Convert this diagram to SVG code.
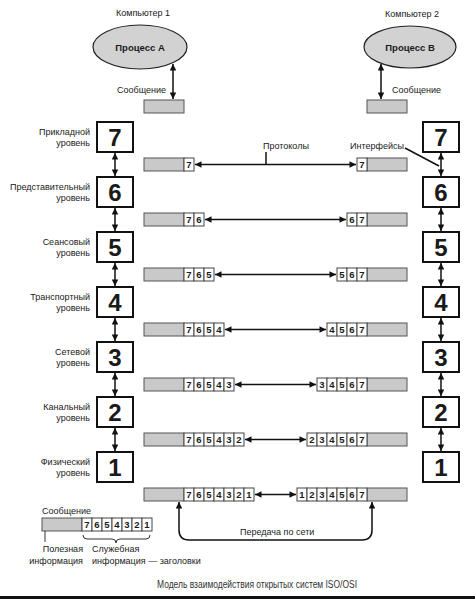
<svg xmlns="http://www.w3.org/2000/svg" width="475" height="599" viewBox="0 0 475 599">
<defs>
<marker id="ah" viewBox="0 0 10 10" refX="10" refY="5" markerWidth="8" markerHeight="6.5" markerUnits="userSpaceOnUse" orient="auto-start-reverse">
<path d="M0,0 L10,5 L0,10 z" fill="#111"/>
</marker>
<style>
text{font-family:"Liberation Sans",Arial,sans-serif;fill:#1a1a1a}
.lbl{font-size:9px}
.lr{text-anchor:end}
.mid{text-anchor:middle}
.box{fill:#fff;stroke:#111;stroke-width:2}
.num{font-size:24px;font-weight:bold;text-anchor:middle}
.gray{fill:#c9c9c9;stroke:#555;stroke-width:1}
.cell{fill:#fff;stroke:#444;stroke-width:1}
.cd{font-size:9.5px;font-weight:bold;text-anchor:middle}
.ln{stroke:#111;stroke-width:1.5;fill:none}
.dbl{stroke:#111;stroke-width:1.5;fill:none;marker-start:url(#ah);marker-end:url(#ah)}
</style>
</defs>
<rect width="475" height="599" fill="#fff"/>

<g id="computer1">
<text class="lbl mid" x="143" y="16">Компьютер 1</text>
<ellipse cx="140" cy="47" rx="47" ry="22" fill="#d2d2d2" stroke="#222" stroke-width="1.2"/>
<text class="mid" x="140" y="51" font-size="9.5" font-weight="bold">Процесс А</text>
<text class="lbl lr" x="166" y="93">Сообщение</text>
<rect class="gray" x="144" y="100" width="40" height="13"/>
</g>
<g id="computer2">
<text class="lbl mid" x="412" y="17">Компьютер 2</text>
<ellipse cx="410" cy="47" rx="46" ry="21" fill="#d2d2d2" stroke="#222" stroke-width="1.2"/>
<text class="mid" x="410" y="51" font-size="9.5" font-weight="bold">Процесс В</text>
<text class="lbl" x="392" y="93">Сообщение</text>
<rect class="gray" x="367" y="100" width="40" height="13"/>
</g>

<g id="left-layers">
<g id="L7"><text class="lbl lr" x="90" y="135">Прикладной</text><text class="lbl lr" x="90" y="146">уровень</text><rect class="box" x="97" y="122" width="36" height="30"/><text class="num" x="115" y="146">7</text></g>
<g id="L6"><text class="lbl lr" x="90" y="190">Представительный</text><text class="lbl lr" x="90" y="201">уровень</text><rect class="box" x="97" y="177" width="36" height="30"/><text class="num" x="115" y="201">6</text></g>
<g id="L5"><text class="lbl lr" x="90" y="245">Сеансовый</text><text class="lbl lr" x="90" y="256">уровень</text><rect class="box" x="97" y="232" width="36" height="30"/><text class="num" x="115" y="256">5</text></g>
<g id="L4"><text class="lbl lr" x="90" y="300">Транспортный</text><text class="lbl lr" x="90" y="311">уровень</text><rect class="box" x="97" y="287" width="36" height="30"/><text class="num" x="115" y="311">4</text></g>
<g id="L3"><text class="lbl lr" x="90" y="355">Сетевой</text><text class="lbl lr" x="90" y="366">уровень</text><rect class="box" x="97" y="342" width="36" height="30"/><text class="num" x="115" y="366">3</text></g>
<g id="L2"><text class="lbl lr" x="90" y="410">Канальный</text><text class="lbl lr" x="90" y="421">уровень</text><rect class="box" x="97" y="397" width="36" height="30"/><text class="num" x="115" y="421">2</text></g>
<g id="L1"><text class="lbl lr" x="90" y="465">Физический</text><text class="lbl lr" x="90" y="476">уровень</text><rect class="box" x="97" y="452" width="36" height="30"/><text class="num" x="115" y="476">1</text></g>
</g>

<g id="right-layers">
<g id="R7"><rect class="box" x="423" y="122" width="36" height="30"/><text class="num" x="441" y="146">7</text></g>
<g id="R6"><rect class="box" x="423" y="177" width="36" height="30"/><text class="num" x="441" y="201">6</text></g>
<g id="R5"><rect class="box" x="423" y="232" width="36" height="30"/><text class="num" x="441" y="256">5</text></g>
<g id="R4"><rect class="box" x="423" y="287" width="36" height="30"/><text class="num" x="441" y="311">4</text></g>
<g id="R3"><rect class="box" x="423" y="342" width="36" height="30"/><text class="num" x="441" y="366">3</text></g>
<g id="R2"><rect class="box" x="423" y="397" width="36" height="30"/><text class="num" x="441" y="421">2</text></g>
<g id="R1"><rect class="box" x="423" y="452" width="36" height="30"/><text class="num" x="441" y="476">1</text></g>
</g>

<g id="left-packets">
<g id="p7l"><rect class="gray" x="144" y="158" width="40" height="13"/><rect class="cell" x="184" y="158" width="10" height="13"/><text class="cd" x="189" y="168">7</text></g>
<g id="p6l"><rect class="gray" x="144" y="213" width="40" height="13"/>
<rect class="cell" x="184" y="213" width="10" height="13"/><text class="cd" x="189" y="223">7</text>
<rect class="cell" x="194" y="213" width="10" height="13"/><text class="cd" x="199" y="223">6</text></g>
<g id="p5l"><rect class="gray" x="144" y="268" width="40" height="13"/>
<rect class="cell" x="184" y="268" width="10" height="13"/><text class="cd" x="189" y="278">7</text>
<rect class="cell" x="194" y="268" width="10" height="13"/><text class="cd" x="199" y="278">6</text>
<rect class="cell" x="204" y="268" width="10" height="13"/><text class="cd" x="209" y="278">5</text></g>
<g id="p4l"><rect class="gray" x="144" y="323" width="40" height="13"/>
<rect class="cell" x="184" y="323" width="10" height="13"/><text class="cd" x="189" y="333">7</text>
<rect class="cell" x="194" y="323" width="10" height="13"/><text class="cd" x="199" y="333">6</text>
<rect class="cell" x="204" y="323" width="10" height="13"/><text class="cd" x="209" y="333">5</text>
<rect class="cell" x="214" y="323" width="10" height="13"/><text class="cd" x="219" y="333">4</text></g>
<g id="p3l"><rect class="gray" x="144" y="378" width="40" height="13"/>
<rect class="cell" x="184" y="378" width="10" height="13"/><text class="cd" x="189" y="388">7</text>
<rect class="cell" x="194" y="378" width="10" height="13"/><text class="cd" x="199" y="388">6</text>
<rect class="cell" x="204" y="378" width="10" height="13"/><text class="cd" x="209" y="388">5</text>
<rect class="cell" x="214" y="378" width="10" height="13"/><text class="cd" x="219" y="388">4</text>
<rect class="cell" x="224" y="378" width="10" height="13"/><text class="cd" x="229" y="388">3</text></g>
<g id="p2l"><rect class="gray" x="144" y="433" width="40" height="13"/>
<rect class="cell" x="184" y="433" width="10" height="13"/><text class="cd" x="189" y="443">7</text>
<rect class="cell" x="194" y="433" width="10" height="13"/><text class="cd" x="199" y="443">6</text>
<rect class="cell" x="204" y="433" width="10" height="13"/><text class="cd" x="209" y="443">5</text>
<rect class="cell" x="214" y="433" width="10" height="13"/><text class="cd" x="219" y="443">4</text>
<rect class="cell" x="224" y="433" width="10" height="13"/><text class="cd" x="229" y="443">3</text>
<rect class="cell" x="234" y="433" width="10" height="13"/><text class="cd" x="239" y="443">2</text></g>
<g id="p1l"><rect class="gray" x="144" y="488" width="40" height="13"/>
<rect class="cell" x="184" y="488" width="10" height="13"/><text class="cd" x="189" y="498">7</text>
<rect class="cell" x="194" y="488" width="10" height="13"/><text class="cd" x="199" y="498">6</text>
<rect class="cell" x="204" y="488" width="10" height="13"/><text class="cd" x="209" y="498">5</text>
<rect class="cell" x="214" y="488" width="10" height="13"/><text class="cd" x="219" y="498">4</text>
<rect class="cell" x="224" y="488" width="10" height="13"/><text class="cd" x="229" y="498">3</text>
<rect class="cell" x="234" y="488" width="10" height="13"/><text class="cd" x="239" y="498">2</text>
<rect class="cell" x="244" y="488" width="10" height="13"/><text class="cd" x="249" y="498">1</text></g>
</g>

<g id="right-packets">
<g id="p7r"><rect class="gray" x="367" y="158" width="40" height="13"/><rect class="cell" x="357" y="158" width="10" height="13"/><text class="cd" x="362" y="168">7</text></g>
<g id="p6r"><rect class="gray" x="367" y="213" width="40" height="13"/>
<rect class="cell" x="347" y="213" width="10" height="13"/><text class="cd" x="352" y="223">6</text>
<rect class="cell" x="357" y="213" width="10" height="13"/><text class="cd" x="362" y="223">7</text></g>
<g id="p5r"><rect class="gray" x="367" y="268" width="40" height="13"/>
<rect class="cell" x="337" y="268" width="10" height="13"/><text class="cd" x="342" y="278">5</text>
<rect class="cell" x="347" y="268" width="10" height="13"/><text class="cd" x="352" y="278">6</text>
<rect class="cell" x="357" y="268" width="10" height="13"/><text class="cd" x="362" y="278">7</text></g>
<g id="p4r"><rect class="gray" x="367" y="323" width="40" height="13"/>
<rect class="cell" x="327" y="323" width="10" height="13"/><text class="cd" x="332" y="333">4</text>
<rect class="cell" x="337" y="323" width="10" height="13"/><text class="cd" x="342" y="333">5</text>
<rect class="cell" x="347" y="323" width="10" height="13"/><text class="cd" x="352" y="333">6</text>
<rect class="cell" x="357" y="323" width="10" height="13"/><text class="cd" x="362" y="333">7</text></g>
<g id="p3r"><rect class="gray" x="367" y="378" width="40" height="13"/>
<rect class="cell" x="317" y="378" width="10" height="13"/><text class="cd" x="322" y="388">3</text>
<rect class="cell" x="327" y="378" width="10" height="13"/><text class="cd" x="332" y="388">4</text>
<rect class="cell" x="337" y="378" width="10" height="13"/><text class="cd" x="342" y="388">5</text>
<rect class="cell" x="347" y="378" width="10" height="13"/><text class="cd" x="352" y="388">6</text>
<rect class="cell" x="357" y="378" width="10" height="13"/><text class="cd" x="362" y="388">7</text></g>
<g id="p2r"><rect class="gray" x="367" y="433" width="40" height="13"/>
<rect class="cell" x="307" y="433" width="10" height="13"/><text class="cd" x="312" y="443">2</text>
<rect class="cell" x="317" y="433" width="10" height="13"/><text class="cd" x="322" y="443">3</text>
<rect class="cell" x="327" y="433" width="10" height="13"/><text class="cd" x="332" y="443">4</text>
<rect class="cell" x="337" y="433" width="10" height="13"/><text class="cd" x="342" y="443">5</text>
<rect class="cell" x="347" y="433" width="10" height="13"/><text class="cd" x="352" y="443">6</text>
<rect class="cell" x="357" y="433" width="10" height="13"/><text class="cd" x="362" y="443">7</text></g>
<g id="p1r"><rect class="gray" x="367" y="488" width="40" height="13"/>
<rect class="cell" x="297" y="488" width="10" height="13"/><text class="cd" x="302" y="498">1</text>
<rect class="cell" x="307" y="488" width="10" height="13"/><text class="cd" x="312" y="498">2</text>
<rect class="cell" x="317" y="488" width="10" height="13"/><text class="cd" x="322" y="498">3</text>
<rect class="cell" x="327" y="488" width="10" height="13"/><text class="cd" x="332" y="498">4</text>
<rect class="cell" x="337" y="488" width="10" height="13"/><text class="cd" x="342" y="498">5</text>
<rect class="cell" x="347" y="488" width="10" height="13"/><text class="cd" x="352" y="498">6</text>
<rect class="cell" x="357" y="488" width="10" height="13"/><text class="cd" x="362" y="498">7</text></g>
</g>

<g id="legend">
<text class="lbl" x="42" y="514">Сообщение</text>
<rect class="gray" x="42" y="518" width="40" height="13"/>
<rect class="cell" x="82" y="518" width="10" height="13"/><text class="cd" x="87" y="528">7</text>
<rect class="cell" x="92" y="518" width="10" height="13"/><text class="cd" x="97" y="528">6</text>
<rect class="cell" x="102" y="518" width="10" height="13"/><text class="cd" x="107" y="528">5</text>
<rect class="cell" x="112" y="518" width="10" height="13"/><text class="cd" x="117" y="528">4</text>
<rect class="cell" x="122" y="518" width="10" height="13"/><text class="cd" x="127" y="528">3</text>
<rect class="cell" x="132" y="518" width="10" height="13"/><text class="cd" x="137" y="528">2</text>
<rect class="cell" x="142" y="518" width="10" height="13"/><text class="cd" x="147" y="528">1</text>
<path d="M45,531 L45,542" stroke="#333" stroke-width="1" fill="none"/>
<path d="M83,535 Q83,539 87,539 L112,539 Q116,539 116,543 Q116,539 120,539 L146,539 Q150,539 150,535" stroke="#333" stroke-width="1" fill="none"/>
<text class="lbl lr" x="83" y="552">Полезная</text>
<text class="lbl lr" x="83" y="564">информация</text>
<text class="lbl" x="92" y="552">Служебная</text>
<text class="lbl" x="92" y="564">информация — заголовки</text>
</g>

<g id="connectors">
<path class="dbl" d="M173,64 L173,99"/>
<path class="dbl" d="M381,64 L381,99"/>
<path class="dbl" d="M115,153 L115,176"/>
<path class="dbl" d="M115,208 L115,231"/>
<path class="dbl" d="M115,263 L115,286"/>
<path class="dbl" d="M115,318 L115,341"/>
<path class="dbl" d="M115,373 L115,396"/>
<path class="dbl" d="M115,428 L115,451"/>
<path class="dbl" d="M441,153 L441,176"/>
<path class="dbl" d="M441,208 L441,231"/>
<path class="dbl" d="M441,263 L441,286"/>
<path class="dbl" d="M441,318 L441,341"/>
<path class="dbl" d="M441,373 L441,396"/>
<path class="dbl" d="M441,428 L441,451"/>
<path class="dbl" d="M195,164.5 L356,164.5"/>
<path class="dbl" d="M205,219.5 L346,219.5"/>
<path class="dbl" d="M215,274.5 L336,274.5"/>
<path class="dbl" d="M225,329.5 L326,329.5"/>
<path class="dbl" d="M235,384.5 L316,384.5"/>
<path class="dbl" d="M245,439.5 L306,439.5"/>
<path class="dbl" d="M255,494.5 L296,494.5"/>
<path class="dbl" d="M179,502 L179,530 Q179,540 189,540 L362,540 Q372,540 372,530 L372,502"/>
<path class="ln" d="M266,152 L266,164.5" stroke-width="1"/>
<path class="ln" d="M405,148 L439,166" stroke-width="1"/>
<text class="lbl" x="263" y="149">Протоколы</text>
<text class="lbl" x="350" y="149">Интерфейсы</text>
<text class="lbl" x="240" y="535">Передача по сети</text>
</g>

<text x="257" y="588" text-anchor="middle" font-size="10" textLength="200" lengthAdjust="spacingAndGlyphs" style="fill:#333">Модель взаимодействия открытых систем ISO/OSI</text>
<rect x="0" y="596" width="475" height="3" fill="#111"/>
</svg>
